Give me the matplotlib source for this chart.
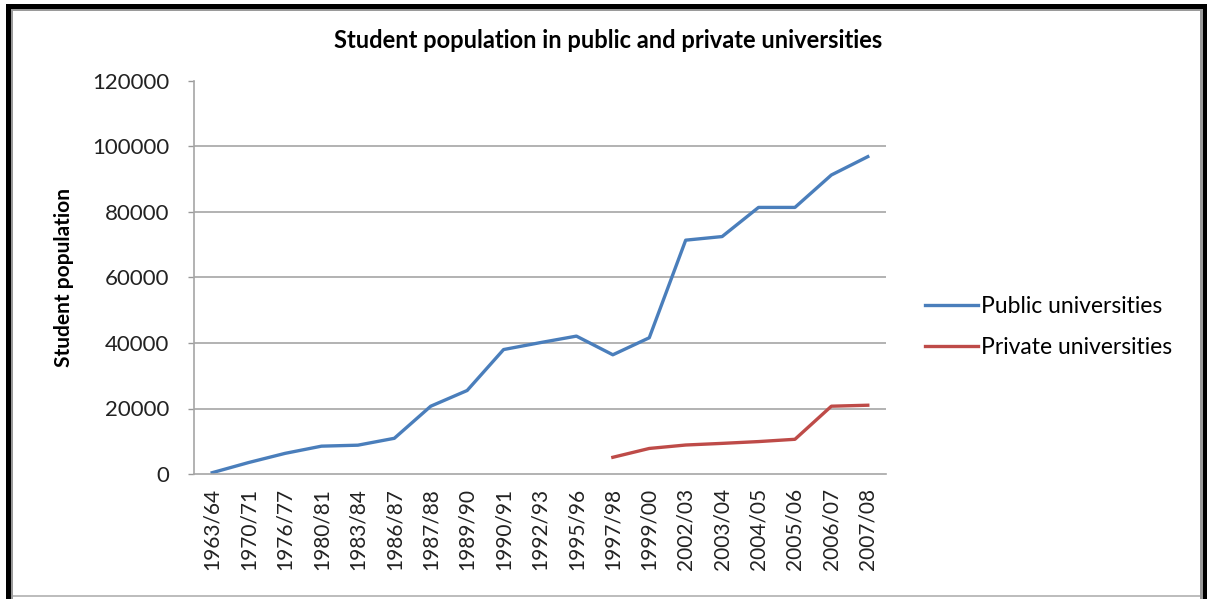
import matplotlib.pyplot as plt
from matplotlib.patches import Rectangle

# Student enrolment per academic year
years = ['1963/64', '1970/71', '1976/77', '1980/81', '1983/84', '1986/87',
         '1987/88', '1989/90', '1990/91', '1992/93', '1995/96', '1997/98',
         '1999/00', '2002/03', '2003/04', '2004/05', '2005/06', '2006/07',
         '2007/08']
public = [400, 3500, 6300, 8500, 8800, 10900, 20700, 25500, 38000, 40100,
          42100, 36400, 41600, 71400, 72500, 81400, 81400, 91300, 96900]
# private universities only reported from 1997/98 onwards
private_years = years[11:]
private = [5100, 7800, 8850, 9350, 9900, 10600, 20700, 21000]

W, H = 1209, 599
plt.rcParams['font.family'] = ['Lato', 'DejaVu Sans']

fig = plt.figure(figsize=(W / 100, H / 100), dpi=100)
fig.patch.set_facecolor('white')

ax = fig.add_axes([194 / W, 1 - 474 / H, 692 / W, 393 / H])
x = list(range(len(years)))
xp = [years.index(y) for y in private_years]
ax.plot(x, public, color='#4A7EBB', lw=2.4, label='Public universities',
        solid_joinstyle='round')
ax.plot(xp, private, color='#BE4B48', lw=2.4, label='Private universities',
        solid_joinstyle='round')

ax.set_xlim(-0.5, len(years) - 0.5)
ax.set_ylim(0, 120000)
ax.set_yticks(range(0, 120001, 20000))
ax.set_xticks(x)
ax.set_xticklabels(years, rotation=90, fontsize=15, color='#222222')
ax.tick_params(axis='y', labelsize=16, colors='#222222', length=4,
               width=1, color='#999999', pad=14)
ax.tick_params(axis='x', length=0, pad=10)
for v in range(20000, 100001, 20000):
    ax.axhline(v, color='#A6A6A6', lw=1.2, zorder=0)
for s in ['top', 'right']:
    ax.spines[s].set_visible(False)
for s in ['left', 'bottom']:
    ax.spines[s].set_color('#A6A6A6')
    ax.spines[s].set_linewidth(1.2)

ax.set_ylabel('Student population', fontsize=15, fontweight='bold',
              labelpad=13)
fig.text(608 / W, 1 - 41 / H, 'Student population in public and private universities',
         ha='center', va='center', fontsize=17, fontweight='bold')

fig.legend(loc='center left', bbox_to_anchor=(925 / W, 1 - 327 / H),
           frameon=False, fontsize=16.5, handlelength=2.3, handletextpad=0.15,
           labelspacing=0.85, borderpad=0, borderaxespad=0)

# picture frame: thick black edge with a thin grey inner line
def box(px0, py0, px1, py1, color):
    fig.add_artist(Rectangle((px0 / W, 1 - py1 / H), (px1 - px0) / W,
                             (py1 - py0) / H, transform=fig.transFigure,
                             facecolor=color, edgecolor='none'))

box(6, 4, 11, H, 'black')
box(6, 4, 1207, 9, 'black')
box(1203, 4, 1207, H, 'black')
box(11, 9, 13, H, '#9A9A9A')
box(11, 9, 1203, 11, '#9A9A9A')
box(1200, 9, 1203, H, '#9A9A9A')
box(13, 595, 1200, 597, '#BDBDBD')

fig.savefig('out.png', dpi=100)
